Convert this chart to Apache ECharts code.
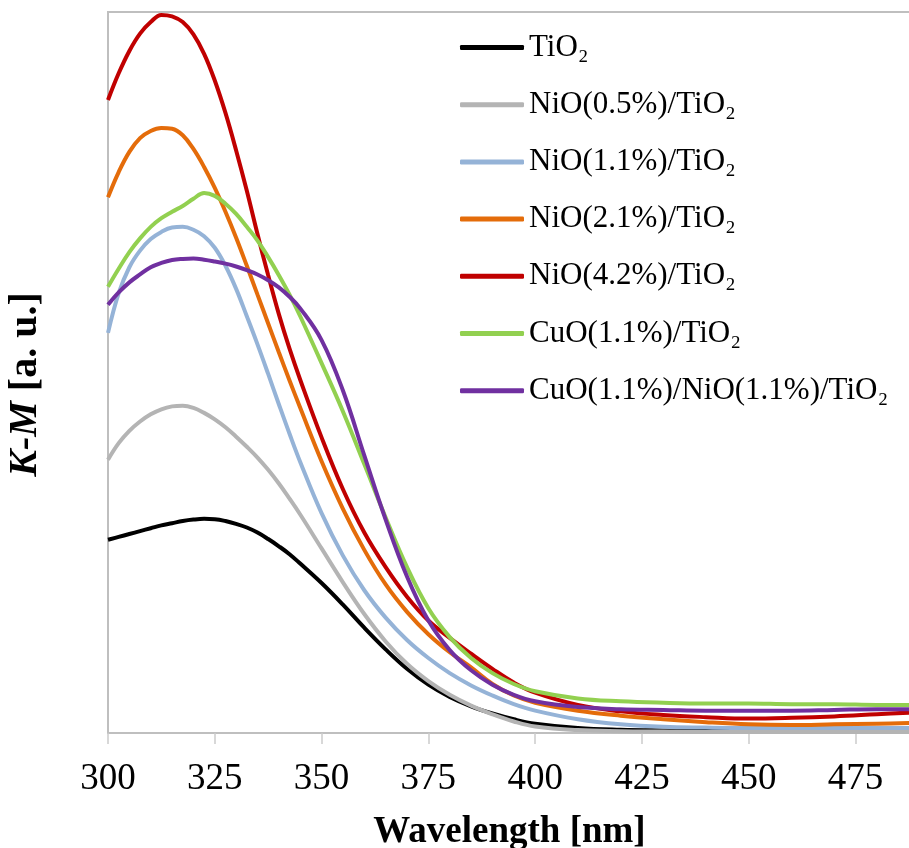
<!DOCTYPE html>
<html>
<head>
<meta charset="utf-8">
<script src="https://cdn.jsdelivr.net/npm/echarts@6/dist/echarts.min.js"></script>
<style>
  html, body { margin: 0; padding: 0; background: #fff; }
  #chart { width: 909px; height: 848px; }
</style>
</head>
<body>
<div id="chart"></div>
<script>
// wavelength [nm]: every 2.5 nm up to 345, then coarser where the curves flatten
const wavelengths = [300, 302.5, 305, 307.5, 310, 312.5, 315, 317.5, 320, 322.5, 325, 327.5, 330, 332.5, 335, 337.5, 340, 342.5, 345,
  350, 355, 360, 365, 370, 375, 380, 385, 390, 395, 400,
  410, 420, 430, 440, 450, 460, 470, 480, 490];

// K-M, arbitrary units
const tio2   = [26.8, 27.2, 27.6, 28.0, 28.4, 28.8, 29.1, 29.4, 29.6, 29.7, 29.65, 29.4, 29.0, 28.5, 27.8, 26.9, 25.9, 24.8, 23.5,
  20.8, 17.8, 14.6, 11.6, 8.9, 6.7, 5.0, 3.7, 2.7, 1.9, 1.3,
  0.7, 0.45, 0.35, 0.3, 0.3, 0.3, 0.3, 0.3, 0.3];
const nio05  = [37.9, 40.2, 41.9, 43.2, 44.2, 44.9, 45.3, 45.4, 45.1, 44.4, 43.5, 42.4, 41.1, 39.7, 38.2, 36.5, 34.6, 32.5, 30.3,
  25.6, 20.9, 16.5, 12.7, 9.6, 7.2, 5.3, 3.8, 2.6, 1.6, 0.9,
  0.4, 0.25, 0.2, 0.15, 0.15, 0.15, 0.15, 0.15, 0.15];
const nio11  = [55.5, 61.0, 64.6, 66.9, 68.5, 69.5, 70.1, 70.2, 69.8, 68.9, 67.3, 64.8, 61.6, 57.8, 53.9, 49.8, 45.6, 41.5, 37.6,
  30.5, 24.6, 19.8, 16.0, 12.9, 10.4, 8.3, 6.6, 5.2, 4.0, 3.1,
  1.9, 1.2, 0.85, 0.75, 0.7, 0.7, 0.7, 0.7, 0.7];
const nio21  = [74.3, 77.8, 80.6, 82.5, 83.5, 83.9, 83.8, 82.9, 81.0, 78.5, 75.6, 72.3, 68.7, 64.8, 60.8, 56.8, 52.8, 48.9, 45.1,
  37.7, 31.1, 25.4, 20.6, 16.8, 13.7, 11.2, 9.1, 6.8, 5.2, 4.2,
  3.1, 2.4, 1.9, 1.5, 1.2, 1.1, 1.2, 1.3, 1.4];
const nio42  = [87.8, 91.5, 94.6, 97.0, 98.6, 99.6, 99.4, 98.6, 96.9, 94.2, 90.5, 86.0, 80.8, 75.2, 69.2, 63.5, 58.1, 53.3, 49.0,
  41.0, 33.8, 27.8, 23.0, 18.9, 15.6, 13.2, 11.0, 8.9, 7.0, 5.6,
  3.9, 3.0, 2.5, 2.2, 2.0, 2.1, 2.3, 2.6, 2.9];
const cuo11  = [61.9, 64.4, 66.7, 68.6, 70.2, 71.4, 72.3, 73.1, 74.1, 74.9, 74.5, 73.4, 72.0, 70.2, 68.3, 66.0, 63.5, 60.8, 57.8,
  51.3, 44.6, 37.3, 29.9, 23.0, 17.3, 13.3, 10.4, 8.3, 6.8, 5.8,
  4.8, 4.4, 4.2, 4.1, 4.1, 4.0, 4.0, 3.9, 3.9];
const cuoNio = [59.4, 61.1, 62.5, 63.6, 64.6, 65.2, 65.6, 65.75, 65.8, 65.65, 65.4, 65.1, 64.7, 64.2, 63.6, 62.8, 61.8, 60.5, 58.9,
  54.5, 47.5, 38.5, 29.6, 21.7, 15.6, 11.5, 8.7, 6.7, 5.3, 4.4,
  3.6, 3.3, 3.2, 3.1, 3.1, 3.1, 3.2, 3.3, 3.3];

const seriesNames = ['TiO₂', 'NiO(0.5%)/TiO₂', 'NiO(1.1%)/TiO₂', 'NiO(2.1%)/TiO₂', 'NiO(4.2%)/TiO₂', 'CuO(1.1%)/TiO₂', 'CuO(1.1%)/NiO(1.1%)/TiO₂'];
const seriesData = [tio2, nio05, nio11, nio21, nio42, cuo11, cuoNio];
const colors = ['#000000', '#b4b4b4', '#95b3d7', '#e46c0a', '#c00000', '#92d050', '#7030a0'];

const font = 'Liberation Serif, Times New Roman, serif';

const chart = echarts.init(document.getElementById('chart'));

const series = [];
for (let i = 0; i < seriesNames.length; i++) {
  series.push({
    name: seriesNames[i],
    type: 'line',
    smooth: 0.4,
    symbol: 'none',
    lineStyle: {width: 4, color: colors[i]},
    itemStyle: {color: colors[i]},
    data: wavelengths.map((w, j) => [w, seriesData[i][j]])
  });
}

chart.setOption({
  animation: false,
  color: colors,
  grid: {
    left: 108,
    top: 12,
    right: -2,
    bottom: 115,
    outerBoundsMode: 'none',
    show: true,
    borderColor: '#bfbfbf',
    borderWidth: 2
  },
  legend: {
    orient: 'vertical',
    left: 455,
    top: 27,
    icon: 'roundRect',
    itemWidth: 64,
    itemHeight: 5,
    itemGap: 26.2,
    textStyle: {fontFamily: font, fontSize: 31, color: '#000', lineHeight: 30},
    data: seriesNames
  },
  xAxis: {
    type: 'value',
    min: 300,
    max: 488,
    interval: 25,
    name: 'Wavelength [nm]',
    nameLocation: 'middle',
    nameGap: 81,
    nameTextStyle: {fontFamily: font, fontSize: 37, fontWeight: 'bold', color: '#000'},
    axisLine: {lineStyle: {color: '#bfbfbf', width: 2}},
    axisTick: {length: 11, lineStyle: {color: '#cccccc', width: 1.5}},
    axisLabel: {fontFamily: font, fontSize: 37, color: '#000', margin: 28, showMaxLabel: false},
    splitLine: {show: false}
  },
  yAxis: {
    type: 'value',
    min: 0,
    max: 100,
    name: '{i|K-M} [a. u.]',
    nameLocation: 'middle',
    nameRotate: 90,
    nameGap: 62,
    nameTextStyle: {
      fontFamily: font, fontSize: 40, fontWeight: 'bold', color: '#000',
      padding: [0, 24, 0, 0],
      rich: {i: {fontFamily: font, fontSize: 40, fontWeight: 'bold', fontStyle: 'italic', color: '#000'}}
    },
    axisLine: {show: true, lineStyle: {color: '#bfbfbf', width: 2}},
    axisTick: {show: false},
    axisLabel: {show: false},
    splitLine: {show: false}
  },
  series: series
});
</script>
</body>
</html>
